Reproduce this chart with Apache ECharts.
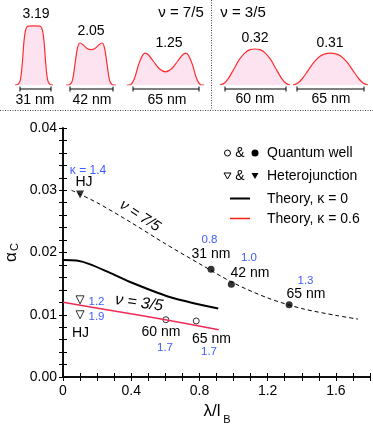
<!DOCTYPE html>
<html>
<head>
<meta charset="utf-8">
<script src="https://cdn.jsdelivr.net/npm/echarts@6/dist/echarts.min.js"></script>
<style>
  html, body { margin: 0; padding: 0; background: #fff; }
  #chart { width: 373px; height: 433px; }
</style>
</head>
<body>
<div id="chart"></div>
<script>
// ---- data ----
// density profiles (normalised position across the well, relative height)
const p1X = [0, 0.08, 0.14, 0.19, 0.24, 0.29, 0.35, 0.5, 0.65, 0.71, 0.76, 0.81, 0.86, 0.92, 1];
const p1Y = [0, 0.01, 0.08, 0.35, 0.75, 0.94, 0.98, 0.985, 0.98, 0.94, 0.75, 0.35, 0.08, 0.01, 0];
const p2X = [0, 0.08, 0.13, 0.18, 0.23, 0.28, 0.34, 0.42, 0.5, 0.58, 0.66, 0.72, 0.77, 0.82, 0.87, 0.92, 1];
const p2Y = [0, 0.01, 0.08, 0.35, 0.62, 0.70, 0.67, 0.61, 0.59, 0.61, 0.67, 0.70, 0.62, 0.35, 0.08, 0.01, 0];
const p3X = [0, 0.05, 0.1, 0.15, 0.2, 0.235, 0.28, 0.34, 0.42, 0.5, 0.58, 0.66, 0.72, 0.765, 0.8, 0.85, 0.9, 0.95, 1];
const p3Y = [0, 0.01, 0.12, 0.34, 0.49, 0.53, 0.50, 0.40, 0.27, 0.22, 0.27, 0.40, 0.50, 0.53, 0.49, 0.34, 0.12, 0.01, 0];
const p4X = [0, 0.06, 0.12, 0.2, 0.28, 0.36, 0.43, 0.5, 0.57, 0.64, 0.72, 0.8, 0.88, 0.94, 1];
const p4Y = [0, 0.03, 0.11, 0.27, 0.43, 0.54, 0.59, 0.60, 0.59, 0.54, 0.43, 0.27, 0.11, 0.03, 0];
const p5X = [0, 0.06, 0.12, 0.2, 0.28, 0.36, 0.43, 0.5, 0.57, 0.64, 0.72, 0.8, 0.88, 0.94, 1];
const p5Y = [0, 0.03, 0.10, 0.24, 0.38, 0.48, 0.52, 0.53, 0.52, 0.48, 0.38, 0.24, 0.10, 0.03, 0];
const profileValues = ['3.19', '2.05', '1.25', '0.32', '0.31'];
const profileWidths = ['31 nm', '42 nm', '65 nm', '60 nm', '65 nm'];

// main plot: alpha_C vs lambda/l_B
const qwFilledX = [0.868, 0.987, 1.326];
const qwFilledY = [0.0173, 0.0149, 0.0116];
const qwOpenX = [0.603, 0.781];
const qwOpenY = [0.0092, 0.0090];
const hjFilledX = [0.1];
const hjFilledY = [0.0293];
const hjOpenX = [0.1, 0.1];
const hjOpenY = [0.0124, 0.0100];

const nu75X = [0.05, 0.2, 0.4, 0.6, 0.8, 1.0, 1.2, 1.4, 1.6, 1.73];
const nu75Y = [0.0300, 0.0280, 0.0248, 0.0214, 0.0182, 0.0151, 0.0127, 0.0110, 0.0099, 0.0093];
const theory0X = [0, 0.08, 0.16, 0.27, 0.39, 0.5, 0.62, 0.76, 0.91];
const theory0Y = [0.0188, 0.0187, 0.0181, 0.0168, 0.0153, 0.0141, 0.0129, 0.0119, 0.0110];
const theory06X = [0, 0.3, 0.6, 0.913];
const theory06Y = [0.0120, 0.0106, 0.0092, 0.0076];

const zip = (xs, ys) => xs.map((x, i) => [x, ys[i]]);

const FONT = 'Liberation Sans, Arial, sans-serif';
const RED = '#ff2d2d';
const PINK = '#fde2f0';
const BLUE = '#3d5cff';
const LINE_RED = '#ee2a58';

const chart = echarts.init(document.getElementById('chart'));

// profile panels (grid boxes in px)
const panels = [
    {left: 15, width: 38, x: p1X, y: p1Y},
    {left: 66, width: 50, x: p2X, y: p2Y},
    {left: 127, width: 77, x: p3X, y: p3Y},
    {left: 220, width: 70, x: p4X, y: p4Y},
    {left: 293, width: 75, x: p5X, y: p5Y}
];

const grids = [{left: 63, right: 2, top: 128, bottom: 56}];
const xAxes = [
    {
        type: 'value', gridIndex: 0, min: 0, max: 1.8, interval: 0.1, position: 'bottom',
        axisLine: {lineStyle: {color: '#000', width: 1.5}},
        axisTick: {inside: true, length: 4, lineStyle: {color: '#000'}},
        splitLine: {show: false},
        axisLabel: {
            margin: 7, color: '#000', fontSize: 14, fontFamily: FONT,
            formatter: function (v) {
                const k = v / 0.4;
                if (Math.abs(k - Math.round(k)) > 1e-6) return '';
                return v === 0 ? '0' : v.toFixed(1);
            }
        }
    },
    {
        type: 'value', gridIndex: 0, min: 0, max: 1.8, interval: 0.1, position: 'top',
        axisLine: {lineStyle: {color: '#000', width: 1.5}},
        axisTick: {inside: true, length: 4, lineStyle: {color: '#000'}},
        splitLine: {show: false}, axisLabel: {show: false}
    }
];
const yAxes = [
    {
        type: 'value', gridIndex: 0, min: 0, max: 0.04, interval: 0.002, position: 'left',
        axisLine: {lineStyle: {color: '#000', width: 1.5}},
        axisTick: {inside: true, length: 4, lineStyle: {color: '#000'}},
        splitLine: {show: false},
        axisLabel: {
            margin: 6, color: '#000', fontSize: 14, fontFamily: FONT,
            formatter: function (v) {
                const k = Math.round(v * 1000);
                return k % 10 === 0 ? v.toFixed(2) : '';
            }
        }
    },
    {
        type: 'value', gridIndex: 0, min: 0, max: 0.04, interval: 0.002, position: 'right',
        axisLine: {lineStyle: {color: '#000', width: 1.5}},
        axisTick: {inside: true, length: 4, lineStyle: {color: '#000'}},
        splitLine: {show: false}, axisLabel: {show: false}
    }
];
const series = [];

panels.forEach(function (p, i) {
    grids.push({left: p.left, width: p.width, top: 25, height: 60});
    xAxes.push({type: 'value', gridIndex: i + 1, min: 0, max: 1, show: false});
    yAxes.push({type: 'value', gridIndex: i + 1, min: 0, max: 1, show: false});
    series.push({
        type: 'line', xAxisIndex: i + 2, yAxisIndex: i + 2,
        data: zip(p.x, p.y), smooth: 0.35, showSymbol: false,
        lineStyle: {color: RED, width: 1.2},
        areaStyle: {color: PINK, opacity: 1}
    });
});

series.push(
    {
        type: 'line', data: zip(nu75X, nu75Y), smooth: 0.3, showSymbol: false,
        lineStyle: {color: '#000', width: 1, type: [4, 3]}
    },
    {
        type: 'line', data: zip(theory0X, theory0Y), smooth: 0.3, showSymbol: false,
        lineStyle: {color: '#000', width: 2}
    },
    {
        type: 'line', data: zip(theory06X, theory06Y), smooth: 0.3, showSymbol: false,
        lineStyle: {color: LINE_RED, width: 1.5}
    },
    {
        type: 'scatter', data: zip(qwFilledX, qwFilledY), symbol: 'circle', symbolSize: 7,
        itemStyle: {color: '#000'}
    },
    {
        type: 'scatter', data: zip(qwOpenX, qwOpenY), symbol: 'circle', symbolSize: 6,
        itemStyle: {color: '#fff', borderColor: '#000', borderWidth: 1}
    },
    {
        type: 'scatter', data: zip(hjFilledX, hjFilledY), symbol: 'triangle', symbolSize: 8,
        symbolRotate: 180, itemStyle: {color: '#000'}
    },
    {
        type: 'scatter', data: zip(hjOpenX, hjOpenY), symbol: 'triangle', symbolSize: 8,
        symbolRotate: 180, itemStyle: {color: '#fff', borderColor: '#000', borderWidth: 1}
    }
);

// text helper for graphic labels
function txt(text, x, y, size, color, extra) {
    return Object.assign({
        type: 'text', x: x, y: y,
        style: {
            text: text, fill: color || '#000', font: (size || 14) + 'px ' + FONT,
            align: 'center', verticalAlign: 'middle'
        }
    }, extra || {});
}

const labelPos = [[36, 14], [91, 31], [169, 43], [255, 38], [330, 43]];
const widthPos = [[35, 100], [92, 100], [167, 100], [255, 99], [331, 99]];
const brackets = [[20, 51], [70, 113], [133, 199], [225, 286], [297, 364]];

const graphic = [
    // separators
    {type: 'line', shape: {x1: 0, y1: 110.5, x2: 373, y2: 110.5}, style: {stroke: '#444', lineWidth: 1, lineDash: [1, 1.5]}},
    {type: 'line', shape: {x1: 211.5, y1: 0, x2: 211.5, y2: 110}, style: {stroke: '#444', lineWidth: 1, lineDash: [1, 1.5]}},
    txt('\u03bd = 7/5', 181, 13, 15),
    txt('\u03bd = 3/5', 243, 13, 15)
];
profileValues.forEach(function (v, i) {
    graphic.push(txt(v, labelPos[i][0], labelPos[i][1], 14));
    graphic.push(txt(profileWidths[i], widthPos[i][0], widthPos[i][1], 14));
    const b = brackets[i];
    graphic.push({type: 'line', shape: {x1: b[0], y1: 89, x2: b[1], y2: 89}, style: {stroke: '#000', lineWidth: 1}});
    graphic.push({type: 'line', shape: {x1: b[0], y1: 86.5, x2: b[0], y2: 91.5}, style: {stroke: '#000', lineWidth: 1}});
    graphic.push({type: 'line', shape: {x1: b[1], y1: 86.5, x2: b[1], y2: 91.5}, style: {stroke: '#000', lineWidth: 1}});
});

// axis titles
graphic.push(
    txt('\u03b1', 11.5, 257, 17, '#000', {rotation: Math.PI / 2}),
    txt('C', 15, 247, 11, '#000', {rotation: Math.PI / 2}),
    txt('\u03bb/l', 212, 411, 17),
    txt('B', 227, 420, 11)
);

// annotations inside the plot
graphic.push(
    txt('\u03ba = 1.4', 88, 171, 12, BLUE),
    txt('HJ', 84, 182, 14),
    txt('0.8', 209.5, 240, 11.5, BLUE),
    txt('31 nm', 211, 254, 14),
    txt('1.0', 249, 258, 11.5, BLUE),
    txt('42 nm', 250, 273, 14),
    txt('1.3', 305.5, 281, 11.5, BLUE),
    txt('65 nm', 306, 294, 14),
    txt('1.2', 96.5, 302, 11.5, BLUE),
    txt('1.9', 96.5, 317, 11.5, BLUE),
    txt('HJ', 80.5, 333, 14),
    txt('60 nm', 161, 332, 14),
    txt('1.7', 165, 348, 11.5, BLUE),
    txt('65 nm', 211.5, 339, 14),
    txt('1.7', 209, 352, 11.5, BLUE),
    {
        type: 'text', x: 139, y: 303, rotation: -0.14,
        style: {text: '\u03bd = 3/5', fill: '#000', font: 'italic 16px ' + FONT, align: 'center', verticalAlign: 'middle'}
    },
    {
        type: 'text', x: 140, y: 216, rotation: -0.58,
        style: {text: '\u03bd = 7/5', fill: '#000', font: 'italic 15px ' + FONT, align: 'center', verticalAlign: 'middle'}
    }
);

// legend
const lx1 = 227.5, lamp = 240, lx2 = 255, ltext = 267;
graphic.push(
    {type: 'circle', shape: {cx: lx1, cy: 153, r: 3}, style: {fill: '#fff', stroke: '#000', lineWidth: 1}},
    txt('&', lamp, 153, 14),
    {type: 'circle', shape: {cx: lx2, cy: 153, r: 3.5}, style: {fill: '#000'}},
    {type: 'text', x: ltext, y: 153, style: {text: 'Quantum well', fill: '#000', font: '14px ' + FONT, align: 'left', verticalAlign: 'middle'}},
    {type: 'polygon', shape: {points: [[lx1 - 3.5, 173], [lx1 + 3.5, 173], [lx1, 179]]}, style: {fill: '#fff', stroke: '#000', lineWidth: 1}},
    txt('&', lamp, 176, 14),
    {type: 'polygon', shape: {points: [[lx2 - 3.5, 173], [lx2 + 3.5, 173], [lx2, 179]]}, style: {fill: '#000'}},
    {type: 'text', x: ltext, y: 176, style: {text: 'Heterojunction', fill: '#000', font: '14px ' + FONT, align: 'left', verticalAlign: 'middle'}},
    {type: 'line', shape: {x1: 230, y1: 198.5, x2: 250, y2: 198.5}, style: {stroke: '#000', lineWidth: 2}},
    {type: 'text', x: ltext, y: 199, style: {text: 'Theory, \u03ba = 0', fill: '#000', font: '14px ' + FONT, align: 'left', verticalAlign: 'middle'}},
    {type: 'line', shape: {x1: 230, y1: 218.5, x2: 250, y2: 218.5}, style: {stroke: '#ff1a1a', lineWidth: 1.5}},
    {type: 'text', x: ltext, y: 219, style: {text: 'Theory, \u03ba = 0.6', fill: '#000', font: '14px ' + FONT, align: 'left', verticalAlign: 'middle'}}
);

chart.setOption({
    animation: false,
    backgroundColor: '#fff',
    grid: grids,
    xAxis: xAxes,
    yAxis: yAxes,
    series: series,
    graphic: graphic
});
</script>
</body>
</html>
